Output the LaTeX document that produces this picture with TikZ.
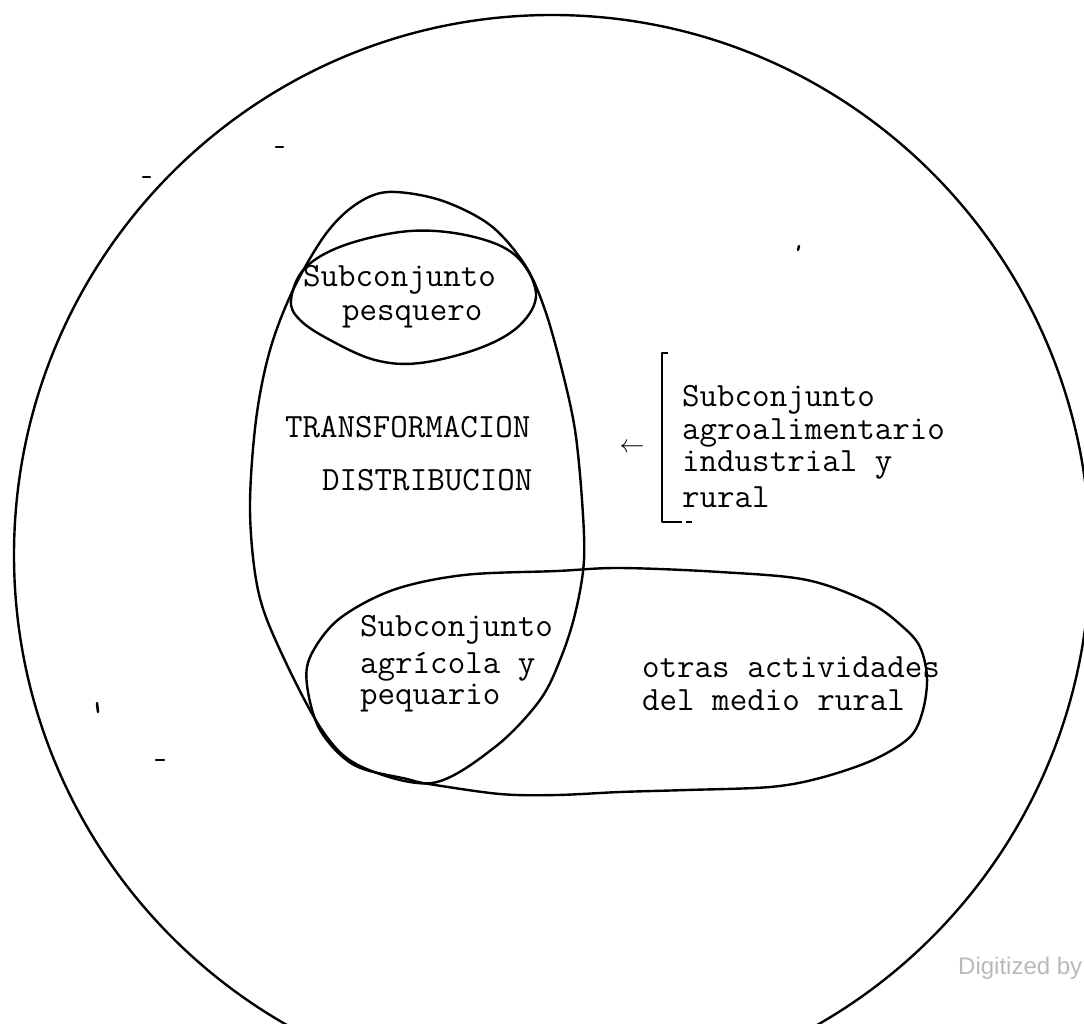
\documentclass[tikz,border=0pt]{standalone}
\usepackage{fontspec}
\newfontfamily\digfont{Liberation Sans}
\definecolor{digigray}{RGB}{185,185,185}
\begin{document}
\begin{tikzpicture}[x=1pt,y=-1pt,
  curve/.style={line width=2.4pt,line join=round},
  typed/.style={font=\ttfamily\addfontfeatures{FakeBold=1.5}\fontsize{34}{40}\selectfont,inner sep=0pt,anchor=west},
  speck/.style={line width=2.5pt,line cap=round}]
\useasboundingbox (0,0) rectangle (1084,1024);
% outer circle (cut by the page)
\begin{scope}
\clip (0,0) rectangle (1084,1024);
\draw[curve] (552,555) ellipse [x radius=538, y radius=540];
\end{scope}
% tall ellipse: TRANSFORMACION / DISTRIBUCION
\draw[curve] plot[smooth cycle,tension=0.55] coordinates {
 (388,192) (440,200) (490,225) (525,265) (545,310) (562,370) (575,430)
 (582,500) (584,560) (576,610) (562,655) (540,700) (495,747) (432,783)
 (360,766) (322,730) (280,650) (258,590) (250,510) (256,420) (270,350)
 (293,290) (325,235) (355,205)};
% subconjunto pesquero
\draw[curve] plot[smooth cycle,tension=0.6] coordinates {
 (291,300) (305,268) (345,245) (410,231) (470,236) (515,255) (536,293)
 (520,325) (480,348) (420,363) (375,360) (330,340) (300,320)};
% agricola + otras actividades
\draw[curve] plot[smooth cycle,tension=0.55] coordinates {
 (307,685) (311,655) (339,619) (393,590) (464,575) (557,571) (620,568)
 (720,572) (807,580) (870,603) (903,627) (920,647) (927,677) (923,710)
 (910,737) (873,760) (820,778) (770,787) (687,790) (620,792) (557,795)
 (500,794) (429,784) (407,779) (354,765) (320,730)};
% texts
\node[typed] (pesq1) at (303,280) {Subconjunto};
\node[typed] (pesq2) at (342,317) {pesquero};
\node[typed] (trans) at (285,427) {TRANSFORMACION};
\node[typed] (distr) at (322,480) {DISTRIBUCION};
\node[typed] (ind1) at (682,400) {Subconjunto};
\node[typed] (ind2) at (682,433) {agroalimentario};
\node[typed] (ind3) at (682,465) {industrial y};
\node[typed] (ind4) at (682,497) {rural};
\node[typed] (agr1) at (360,630) {Subconjunto};
\node[typed] (agr2) at (360,667) {agrícola y};
\node[typed] (agr3) at (360,698) {pequario};
\node[typed] (otr1) at (642,667) {otras actividades};
\node[typed] (otr2) at (642,700) {del medio rural};
\node[inner sep=0pt,font=\fontsize{24}{24}\selectfont] (arrow) at (632,448) {$\leftarrow$};
% bracket
\coordinate (bt) at (668,353);
\coordinate (btc) at (662,353);
\coordinate (bbc) at (662,522);
\coordinate (bb) at (682,522);
\coordinate (bbe1) at (686,522);
\coordinate (bbe2) at (692,522);
\draw[curve] (bt) -- (btc) -- (bbc) -- (bb);
\draw[curve] (bbe1) -- (bbe2);
% scan specks
\coordinate (s1a) at (143,177); \coordinate (s1b) at (150,177);
\coordinate (s2a) at (276,147); \coordinate (s2b) at (283,147);
\coordinate (s3a) at (97,703); \coordinate (s3b) at (98,712);
\coordinate (s4a) at (156,760); \coordinate (s4b) at (164,760);
\coordinate (s5a) at (799,246); \coordinate (s5b) at (798,250);
\draw[speck] (s1a) -- (s1b);
\draw[speck] (s2a) -- (s2b);
\draw[speck] (s3a) -- (s3b);
\draw[speck] (s4a) -- (s4b);
\draw[speck] (s5a) -- (s5b);
% watermark
\node[inner sep=0pt,anchor=west,text=digigray,font=\digfont\fontsize{24}{24}\selectfont] (dig) at (958,968) {Digitized by};
\end{tikzpicture}
\end{document}
